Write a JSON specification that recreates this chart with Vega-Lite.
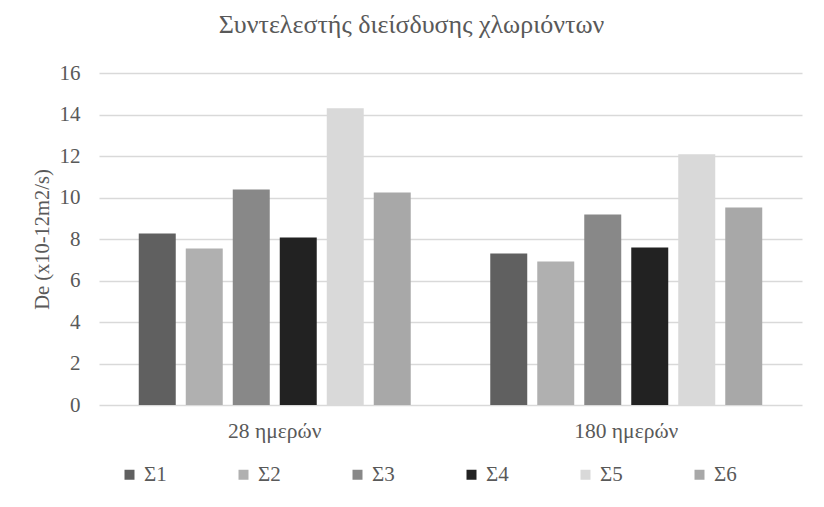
{
  "$schema": "https://vega.github.io/schema/vega-lite/v6.json",
  "autosize": {"type": "none"},
  "padding": {"left": 99, "top": 73, "right": 22, "bottom": 102},
  "width": 703,
  "height": 332,
  "background": "white",
  "title": {
    "text": "Συντελεστής διείσδυσης χλωριόντων",
    "font": "Liberation Serif",
    "fontSize": 26,
    "fontWeight": "normal",
    "color": "#595959",
    "anchor": "middle",
    "dx": -39,
    "offset": 24
  },
  "data": {
    "values": [
      {"age": "28 ημερών", "series": "Σ1", "value": 8.26},
      {"age": "28 ημερών", "series": "Σ2", "value": 7.54},
      {"age": "28 ημερών", "series": "Σ3", "value": 10.39},
      {"age": "28 ημερών", "series": "Σ4", "value": 8.07},
      {"age": "28 ημερών", "series": "Σ5", "value": 14.3},
      {"age": "28 ημερών", "series": "Σ6", "value": 10.24},
      {"age": "180 ημερών", "series": "Σ1", "value": 7.3},
      {"age": "180 ημερών", "series": "Σ2", "value": 6.91},
      {"age": "180 ημερών", "series": "Σ3", "value": 9.18},
      {"age": "180 ημερών", "series": "Σ4", "value": 7.59},
      {"age": "180 ημερών", "series": "Σ5", "value": 12.08},
      {"age": "180 ημερών", "series": "Σ6", "value": 9.52}
    ]
  },
  "mark": {"type": "bar"},
  "encoding": {
    "x": {
      "field": "age",
      "type": "nominal",
      "sort": ["28 ημερών", "180 ημερών"],
      "scale": {"paddingInner": 0, "paddingOuter": 0},
      "axis": {
        "title": null,
        "labelAngle": 0,
        "domain": false,
        "ticks": false,
        "labelFont": "Liberation Serif",
        "labelFontSize": 21.5,
        "labelColor": "#595959",
        "labelPadding": 15
      }
    },
    "xOffset": {
      "field": "series",
      "type": "nominal",
      "scale": {"paddingInner": 0.213, "paddingOuter": 0.846}
    },
    "y": {
      "field": "value",
      "type": "quantitative",
      "scale": {"domain": [0, 16], "nice": false},
      "axis": {
        "title": "De (x10-12m2/s)",
        "values": [0, 2, 4, 6, 8, 10, 12, 14, 16],
        "domain": false,
        "ticks": false,
        "grid": true,
        "gridColor": "#d9d9d9",
        "gridWidth": 1.3,
        "labelFont": "Liberation Serif",
        "labelFontSize": 21,
        "labelColor": "#595959",
        "labelPadding": 19,
        "titleFont": "Liberation Serif",
        "titleFontSize": 20.5,
        "titleFontWeight": "normal",
        "titleColor": "#595959",
        "titlePadding": 7
      }
    },
    "color": {
      "field": "series",
      "type": "nominal",
      "scale": {
        "domain": ["Σ1", "Σ2", "Σ3", "Σ4", "Σ5", "Σ6"],
        "range": ["#606060", "#b0b0b0", "#888888", "#222222", "#d9d9d9", "#a8a8a8"]
      },
      "legend": {
        "title": null,
        "orient": "none",
        "legendX": 20,
        "legendY": 391,
        "direction": "horizontal",
        "columns": 6,
        "symbolType": "square",
        "symbolSize": 100,
        "symbolStrokeWidth": 0,
        "symbolOffset": 0,
        "labelOffset": 4,
        "columnPadding": 66,
        "padding": 0,
        "labelFont": "Liberation Serif",
        "labelFontSize": 21,
        "labelColor": "#595959"
      }
    }
  },
  "config": {
    "view": {"stroke": null}
  }
}
